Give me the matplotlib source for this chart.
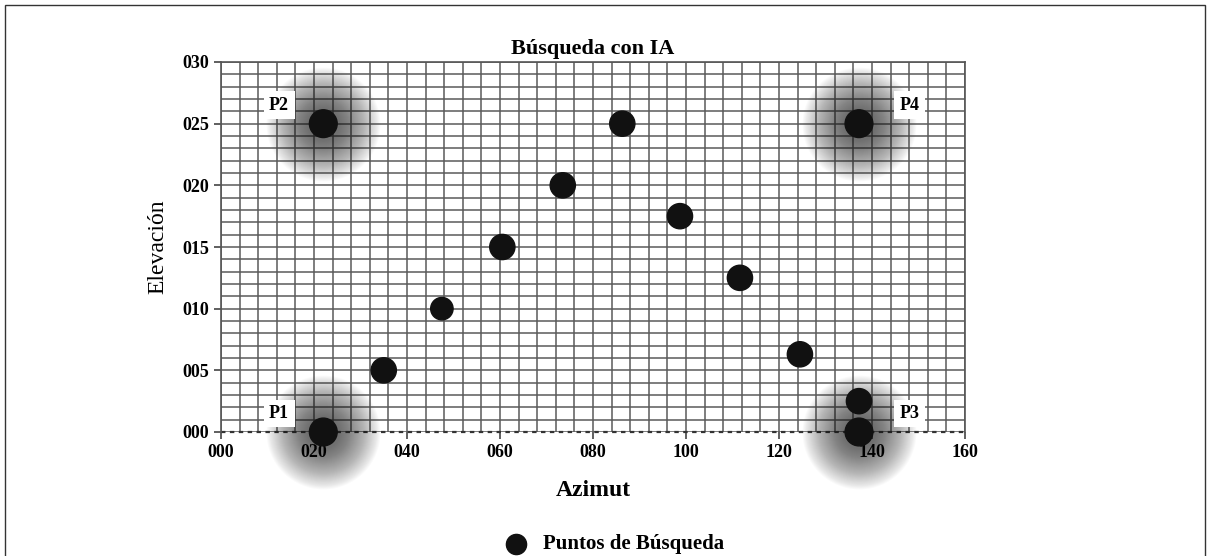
import matplotlib
matplotlib.use("Agg")
import matplotlib.pyplot as plt
import numpy as np
from matplotlib.patches import Rectangle

azimut = [22, 22, 35, 47.5, 60.5, 73.5, 86.3, 98.7, 111.6, 124.5, 137.2, 137.2, 137.2]
elevacion = [0, 25, 5, 10, 15, 20, 25, 17.5, 12.5, 6.3, 2.5, 0, 25]
tamano = [400, 400, 330, 260, 330, 330, 330, 330, 330, 330, 330, 400, 400]
esquinas_x = [22, 22, 137.2, 137.2]
esquinas_y = [0, 25, 0, 25]
esquinas_lbl = ["P1", "P2", "P3", "P4"]
lbl_x = [12.5, 12.5, 148, 148]
lbl_y = [1.5, 26.5, 1.5, 26.5]
xticks = [0, 20, 40, 60, 80, 100, 120, 140, 160]
yticks = [0, 5, 10, 15, 20, 25, 30]

serif = ["Liberation Serif", "DejaVu Serif"]
plt.rcParams['font.family'] = serif

fig = plt.figure(figsize=(12.1, 5.56), dpi=100)
ax = fig.add_axes([221/1210, 1-432/556, (965-221)/1210, (432-62)/556])

ax.set_xlim(0, 160)
ax.set_ylim(0, 30)
ax.set_xticks(xticks)
ax.set_yticks(yticks)
ax.set_xticklabels([f"{v:03d}" for v in xticks], fontsize=13, fontweight='bold')
ax.set_yticklabels([f"{v:03d}" for v in yticks], fontsize=13, fontweight='bold')
ax.set_xticks(np.arange(0, 161, 4), minor=True)
ax.set_yticks(np.arange(0, 31, 1), minor=True)
ax.grid(which='both', color='#5a5a5a', linewidth=1.1)
ax.tick_params(which='minor', length=0)
ax.tick_params(which='major', length=5, width=1.2, color='#444444')
ax.set_axisbelow(True)
for s in ax.spines.values():
    s.set_color('#555555')
    s.set_linewidth(1.2)
ax.spines['bottom'].set_visible(False)
ax.axhline(0, color='#333333', linestyle=(0, (2, 2)), linewidth=1.6, zorder=2, clip_on=False)

# soft glow around corner points
for cx, cy in zip(esquinas_x, esquinas_y):
    for r in np.linspace(82, 24, 44):
        ax.scatter([cx], [cy], s=r**2, color='#202020', alpha=0.02, linewidths=0, zorder=3, clip_on=False)

ax.scatter(azimut, elevacion, s=tamano, color='#111111', zorder=5, clip_on=False,
           label='Puntos de Búsqueda')

for x, y, t in zip(lbl_x, lbl_y, esquinas_lbl):
    ax.text(x, y, t, fontsize=13, fontweight='bold', ha='center', va='center', zorder=6,
            bbox=dict(boxstyle='square,pad=0.3', fc='white', ec='none'))

ax.set_title('Búsqueda con IA', fontsize=16, fontweight='bold', pad=6)
ax.set_xlabel('Azimut', fontsize=17, fontweight='bold', labelpad=14)
ax.set_ylabel('Elevación', fontsize=17, labelpad=10)

leg = fig.legend(loc='center', bbox_to_anchor=(610/1210, 1-544/556), frameon=False,
                 prop={'family': serif, 'weight': 'bold', 'size': 15}, markerscale=0.8,
                 handletextpad=0.3)

fig.patches.append(Rectangle((5/1210, -0.01), 1200/1210, 1-5/556+0.01, transform=fig.transFigure,
                             fill=False, edgecolor='#333333', linewidth=1.0))

fig.savefig('out.png', dpi=100)
